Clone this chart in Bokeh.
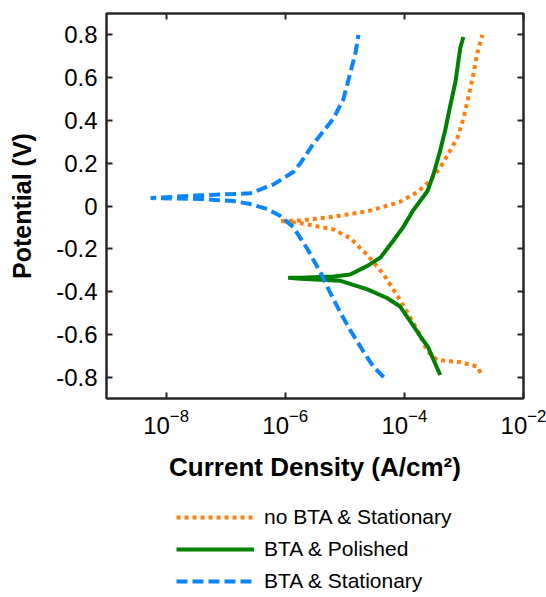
from bokeh.plotting import figure
from bokeh.models import (LogAxis, LinearAxis, FixedTicker, Legend, LegendItem, Range1d)
from bokeh.layouts import column
from bokeh.embed import file_html
from bokeh.resources import INLINE

# ---- data (current density A/cm^2, potential V) ----
noBTA_stat_i = [1.9e-3, 1.66e-3, 8.7e-4, 3.55e-4, 2.45e-4, 1.66e-4, 8.5e-5, 4.5e-5, 2.4e-5,
                1.23e-5, 6.5e-6, 1.8e-6, 8.3e-7, 1.8e-6, 6.5e-6, 2.4e-5, 6.6e-5, 8.5e-5,
                1.66e-4, 2.75e-4, 4.0e-4, 5.9e-4, 7.8e-4, 9.8e-4, 1.17e-3, 1.45e-3, 1.66e-3, 2.04e-3]
noBTA_stat_E = [-0.78, -0.75, -0.73, -0.72, -0.68, -0.58, -0.44, -0.32, -0.23,
                -0.15, -0.11, -0.08, -0.07, -0.068, -0.05, -0.025, 0.01, 0.02,
                0.065, 0.12, 0.18, 0.26, 0.32, 0.41, 0.50, 0.62, 0.71, 0.80]

BTA_pol_i = [4.0e-4, 3.1e-4, 2.5e-4, 1.86e-4, 1.26e-4, 8.5e-5, 5.1e-5, 2.4e-5, 8.5e-6,
             1.8e-6, 1.12e-6, 1.8e-6, 6.5e-6, 1.23e-5, 2.4e-5, 4.0e-5, 6.6e-5, 9.5e-5,
             1.41e-4, 2.45e-4, 3.1e-4, 4.0e-4, 4.9e-4, 5.9e-4, 7.2e-4, 8.1e-4, 8.7e-4, 9.8e-4]
BTA_pol_E = [-0.79, -0.72, -0.66, -0.61, -0.54, -0.47, -0.43, -0.39, -0.35,
             -0.34, -0.336, -0.335, -0.33, -0.32, -0.28, -0.24, -0.16, -0.10,
             -0.02, 0.07, 0.15, 0.26, 0.36, 0.47, 0.58, 0.68, 0.74, 0.79]

BTA_stat_i = [4.5e-5, 3.0e-5, 2.05e-5, 1.23e-5, 8.5e-6, 5.8e-6, 3.9e-6, 2.95e-6, 2.35e-6,
              1.8e-6, 1.38e-6, 8.3e-7, 5.0e-7, 2.6e-7, 1.35e-7, 3.8e-8, 5.5e-9,
              3.8e-8, 1.35e-7, 2.6e-7, 6.3e-7, 1.38e-6, 1.8e-6, 2.95e-6, 4.4e-6,
              6.5e-6, 9.5e-6, 1.23e-5, 1.5e-5, 1.7e-5]
BTA_stat_E = [-0.80, -0.75, -0.68, -0.58, -0.50, -0.41, -0.31, -0.25, -0.20,
              -0.15, -0.10, -0.047, -0.014, 0.009, 0.023, 0.033, 0.037,
              0.05, 0.056, 0.06, 0.10, 0.16, 0.20, 0.29, 0.35,
              0.41, 0.50, 0.62, 0.71, 0.80]

x_ticks = [1e-8, 1e-6, 1e-4, 1e-2]
y_ticks = [-0.8, -0.6, -0.4, -0.2, 0, 0.2, 0.4, 0.6, 0.8]
y_tick_labels = ["-0.8", "-0.6", "-0.4", "-0.2", "0", "0.2", "0.4", "0.6", "0.8"]
series_names = ["no BTA & Stationary", "BTA & Polished", "BTA & Stationary"]
colors = ["#FF7F0E", "#008000", "#0A84FF"]
dashes = ["4 4", "solid", "11 5"]

FONT = "Liberation Sans"
AX = "#262626"

p = figure(width=546, height=490, x_axis_type="log",
           x_range=Range1d(1e-9, 1e-2), y_range=Range1d(-0.9, 0.9),
           output_backend="svg", toolbar_location=None,
           min_border_left=106, min_border_right=23, min_border_top=13, min_border_bottom=92,
           x_axis_label="Current Density (A/cm²)", y_axis_label="Potential (V)")
p.grid.visible = False
p.outline_line_color = AX
p.outline_line_width = 2
p.background_fill_color = "white"
p.border_fill_color = "white"

bottom = p.below[0]
left = p.left[0]
bottom.ticker = FixedTicker(ticks=x_ticks, minor_ticks=[])
left.ticker = FixedTicker(ticks=y_ticks, minor_ticks=[])
left.major_label_overrides = {t: l for t, l in zip(y_ticks, y_tick_labels)}

top = LogAxis(ticker=FixedTicker(ticks=x_ticks, minor_ticks=[]),
              major_label_overrides={t: "" for t in x_ticks}, major_label_standoff=0,
              major_label_text_font_size="1px")
right = LinearAxis(ticker=FixedTicker(ticks=y_ticks, minor_ticks=[]),
                   major_label_overrides={t: "" for t in y_ticks}, major_label_standoff=0,
                   major_label_text_font_size="1px")
p.add_layout(top, "above")
p.add_layout(right, "right")

for ax in [bottom, left, top, right]:
    ax.axis_line_color = AX
    ax.axis_line_width = 2
    ax.major_tick_line_color = AX
    ax.major_tick_line_width = 2
    ax.major_tick_in = 6
    ax.major_tick_out = 0
    ax.minor_tick_in = 0
    ax.minor_tick_out = 0

bottom.major_label_text_font = FONT
bottom.major_label_text_font_size = "24px"
bottom.major_label_text_color = "black"
bottom.major_label_standoff = 10
bottom.axis_label_text_font = FONT
bottom.axis_label_text_font_size = "26px"
bottom.axis_label_text_font_style = "bold"
bottom.axis_label_text_color = "black"
bottom.axis_label_standoff = 15

left.major_label_text_font = FONT
left.major_label_text_font_size = "24px"
left.major_label_text_color = "black"
left.major_label_standoff = 9
left.axis_label_text_font = FONT
left.axis_label_text_font_size = "25px"
left.axis_label_text_font_style = "bold"
left.axis_label_text_color = "black"
left.axis_label_standoff = 17

series = [(noBTA_stat_i, noBTA_stat_E), (BTA_pol_i, BTA_pol_E), (BTA_stat_i, BTA_stat_E)]
for (xs, ys), c, d in zip(series, colors, dashes):
    p.line(xs, ys, line_color=c, line_width=4, line_dash=d)

# legend panel below the axes (its frame is aligned with the main frame)
q = figure(width=546, height=107, x_range=Range1d(0, 1), y_range=Range1d(0, 1),
           output_backend="svg", toolbar_location=None, min_border=0)
q.axis.visible = False
q.grid.visible = False
q.outline_line_color = None
items = []
for name, c, d in zip(series_names, colors, dashes):
    r = q.line([5, 6], [5, 6], line_color=c, line_width=4, line_dash=d)
    items.append(LegendItem(label=name, renderers=[r]))
legend = Legend(items=items, location=(70, 4), border_line_color=None, background_fill_alpha=0,
                padding=0, margin=0, spacing=8, glyph_width=78, glyph_height=20, label_height=20,
                label_standoff=10, label_text_font=FONT, label_text_font_size="21px",
                label_text_color="black")
q.add_layout(legend)

open("out.html", "w").write(file_html(column(p, q, spacing=0), INLINE))
